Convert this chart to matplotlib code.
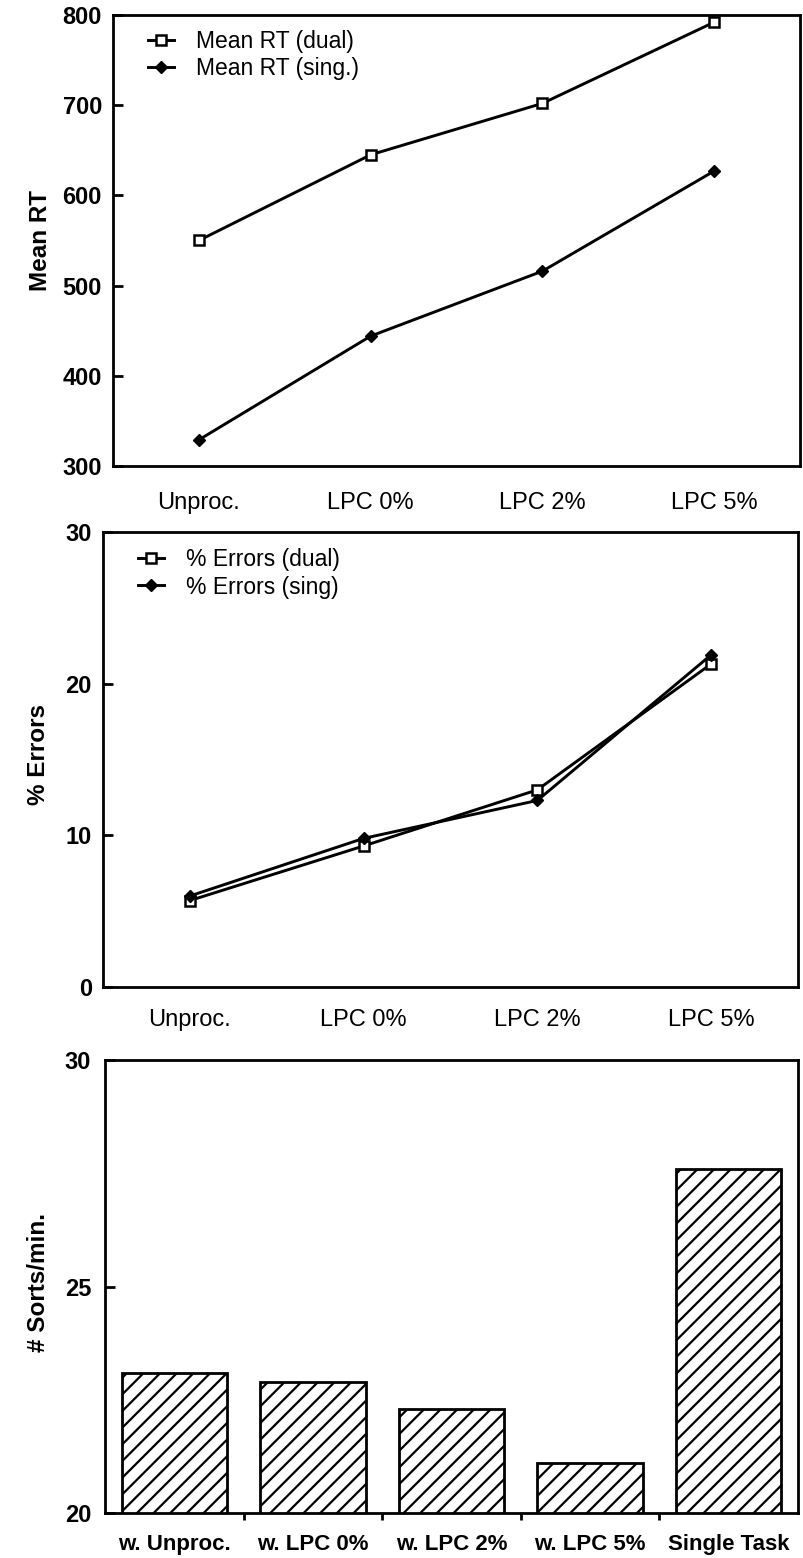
import matplotlib
matplotlib.use("Agg")
import matplotlib.pyplot as plt
import numpy as np

plt.rcParams["font.family"] = ["Liberation Sans", "DejaVu Sans"]
plt.rcParams["hatch.linewidth"] = 1.6

# Panel data
conditions = ["Unproc.", "LPC 0%", "LPC 2%", "LPC 5%"]
rt_dual = [550, 645, 702, 792]
rt_sing = [329, 444, 516, 627]
err_dual = [5.7, 9.3, 13.0, 21.3]
err_sing = [6.0, 9.8, 12.3, 21.9]

sort_labels = ["w. Unproc.", "w. LPC 0%", "w. LPC 2%", "w. LPC 5%", "Single Task"]
sorts_per_min = [23.1, 22.9, 22.3, 21.1, 27.6]

fig = plt.figure(figsize=(8.04, 15.58), dpi=100)

ax1 = fig.add_axes([113 / 804, 1 - 466 / 1558, 687 / 804, 451 / 1558])
ax2 = fig.add_axes([103 / 804, 1 - 987 / 1558, 695 / 804, 455 / 1558])
ax3 = fig.add_axes([105 / 804, 1 - 1513 / 1558, 693 / 804, 453 / 1558])

lw = 2.1
fs_tick = 17
fs_label = 17.5
x = np.arange(len(conditions))


def style_axes(ax):
    for s in ax.spines.values():
        s.set_linewidth(2.0)
    ax.tick_params(axis="y", direction="in", length=7, width=2.0, labelsize=fs_tick)
    for t in ax.get_yticklabels():
        t.set_fontweight("bold")


def add_legend(ax, x0, y0):
    ax.legend(loc="upper left", frameon=False, fontsize=16.5, handlelength=1.15,
              handletextpad=0.95, bbox_to_anchor=(x0, y0), borderaxespad=0,
              borderpad=0, labelspacing=0.2)


# Panel 1: mean RT
ax1.plot(x, rt_dual, color="black", lw=lw, marker="s", ms=7, mfc="white",
         mec="black", mew=1.8, label="Mean RT (dual)")
ax1.plot(x, rt_sing, color="black", lw=lw, marker="D", ms=6.5, mfc="black",
         mec="black", label="Mean RT (sing.)")
ax1.set_xlim(-0.5, 3.5)
ax1.set_ylim(300, 800)
ax1.set_yticks([300, 400, 500, 600, 700, 800])
ax1.set_xticks(x)
ax1.set_xticklabels(conditions)
ax1.tick_params(axis="x", length=0, pad=19, labelsize=fs_tick)
ax1.set_ylabel("Mean RT", fontsize=fs_label, fontweight="bold")
ax1.yaxis.set_label_coords(-0.089, 0.5)
style_axes(ax1)
ax1.tick_params(axis="y", pad=8)
add_legend(ax1, 0.051, 0.967)

# Panel 2: % errors
ax2.plot(x, err_dual, color="black", lw=lw, marker="s", ms=7, mfc="white",
         mec="black", mew=1.8, label="% Errors (dual)")
ax2.plot(x, err_sing, color="black", lw=lw, marker="D", ms=6.5, mfc="black",
         mec="black", label="% Errors (sing)")
ax2.set_xlim(-0.5, 3.5)
ax2.set_ylim(0, 30)
ax2.set_yticks([0, 10, 20, 30])
ax2.set_xticks(x)
ax2.set_xticklabels(conditions)
ax2.tick_params(axis="x", length=0, pad=16, labelsize=fs_tick)
ax2.set_ylabel("% Errors", fontsize=fs_label, fontweight="bold")
ax2.yaxis.set_label_coords(-0.076, 0.51)
style_axes(ax2)
ax2.tick_params(axis="y", pad=8)
add_legend(ax2, 0.050, 0.965)

# Panel 3: sorts per minute
xb = np.arange(len(sort_labels))
ax3.bar(xb, sorts_per_min, width=0.76, bottom=0, color="white",
        edgecolor="black", linewidth=2.0, hatch="//")
ax3.set_xlim(-0.5, 4.5)
ax3.set_ylim(20, 30)
ax3.set_yticks([20, 25, 30])
ax3.set_xticks(xb)
ax3.set_xticklabels(sort_labels)
ax3.set_xticks(xb[:-1] + 0.5, minor=True)
ax3.tick_params(axis="x", which="major", length=0, pad=15, labelsize=16)
ax3.tick_params(axis="x", which="minor", direction="out", length=5, width=2.0)
for t in ax3.get_xticklabels():
    t.set_fontweight("bold")
ax3.set_ylabel("# Sorts/min.", fontsize=fs_label, fontweight="bold")
ax3.yaxis.set_label_coords(-0.079, 0.508)
style_axes(ax3)
ax3.tick_params(axis="y", pad=10)

fig.savefig("out.png", dpi=100)
